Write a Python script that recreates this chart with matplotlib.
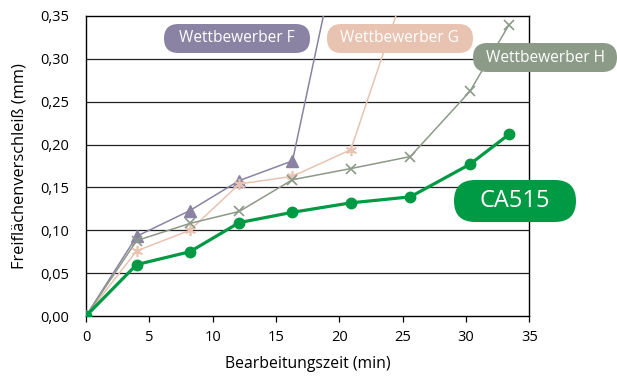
import numpy as np
import matplotlib.pyplot as plt
from matplotlib.patches import FancyBboxPatch

plt.rcParams["font.family"] = ["Open Sans", "DejaVu Sans"]

# Bearbeitungszeit (min)
zeit = [0, 4, 8.2, 12.1, 16.3, 20.9, 25.6, 30.3, 33.4]
# Freiflächenverschleiß (mm)
ca515 = [0, 0.060, 0.075, 0.109, 0.121, 0.132, 0.139, 0.177, 0.212]
wett_f = [0, 0.093, 0.123, 0.158, 0.181, 0.50]
wett_g = [0, 0.076, 0.100, 0.154, 0.163, 0.194, 0.40]
wett_h = [0, 0.088, 0.108, 0.122, 0.159, 0.172, 0.186, 0.262, 0.340]

x_ticks = [0, 5, 10, 15, 20, 25, 30, 35]
y_ticks = [0, 0.05, 0.10, 0.15, 0.20, 0.25, 0.30, 0.35]

col_f = "#8a83a3"
col_g = "#e9c3b1"
col_h = "#8c9a88"
col_ca = "#009944"

fig = plt.figure(figsize=(6.17, 3.79), dpi=100)
ax = fig.add_axes([0.1394, 0.1662, 0.7186, 0.7916])

for y in y_ticks[1:-1]:
    ax.axhline(y, color="#222222", lw=0.9, zorder=1)

ax.plot(zeit[:len(wett_f)], wett_f, color=col_f, lw=1.1, marker="^", ms=8.5,
        zorder=3)
ax.plot(zeit[:len(wett_g)], wett_g, color=col_g, lw=1.1, marker=(6, 2, 0),
        ms=8, mew=1.2, zorder=3)
ax.plot(zeit, wett_h, color=col_h, lw=1.1, marker="x", ms=7, mew=1.2, zorder=3)
ax.plot(zeit, ca515, color=col_ca, lw=2.3, marker="o", ms=7.5, zorder=4)

ax.set_xlim(0, 35)
ax.set_ylim(0, 0.35)
ax.set_xticks(x_ticks)
ax.set_yticks(y_ticks)
ax.set_yticklabels([f"{v:.2f}".replace(".", ",") for v in y_ticks])
ax.tick_params(axis="x", direction="out", length=4, width=0.9, pad=6,
               labelsize=10.5)
ax.tick_params(axis="y", length=0, pad=12, labelsize=10.5)
for s in ax.spines.values():
    s.set_linewidth(1.0)
    s.set_color("black")

ax.set_xlabel("Bearbeitungszeit (min)", fontsize=11.3, labelpad=8)
ax.set_ylabel("Freiflächenverschleiß (mm)", fontsize=11.8, labelpad=9)

# Beschriftungen der Kurven als abgerundete Felder (Angaben in Zoll)
def label(x0, y0, w, h, txt, col, size):
    box = FancyBboxPatch((x0, y0), w, h,
                         boxstyle=f"round,pad=0,rounding_size={h / 2}",
                         transform=fig.dpi_scale_trans, fc=col, ec="none",
                         zorder=6, clip_on=False)
    fig.add_artist(box)
    fig.text(x0 + w / 2, y0 + h / 2, txt, transform=fig.dpi_scale_trans,
             color="white", fontsize=size, ha="center", va="center",
             zorder=7)

label(1.64, 3.26, 1.46, 0.29, "Wettbewerber F", col_f, 11.2)
label(3.27, 3.26, 1.46, 0.29, "Wettbewerber G", col_g, 11.2)
label(4.73, 3.07, 1.44, 0.29, "Wettbewerber H", col_h, 11.2)
label(4.54, 1.57, 1.22, 0.42, "CA515", col_ca, 17)

fig.savefig("out.png", dpi=100)
